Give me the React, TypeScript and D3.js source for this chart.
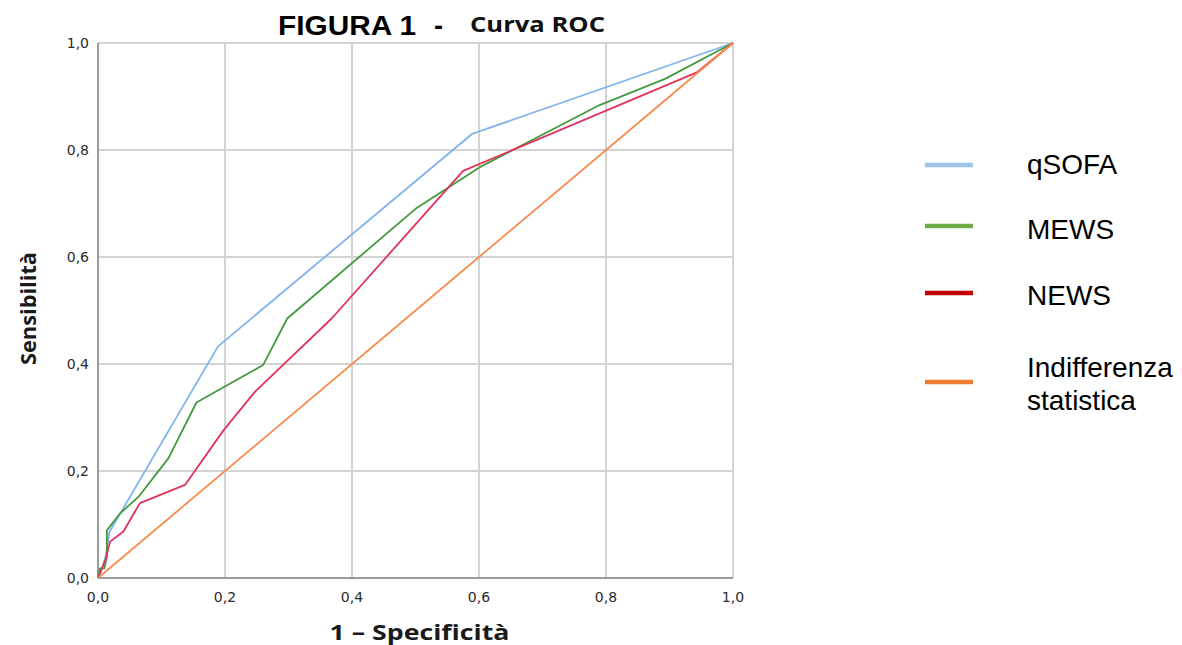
import React from "react";
import * as d3 from "d3";

type Pt = [number, number];

// ROC curve points: [1 - specificity, sensitivity]
const qsofa: Pt[] = [
  [0, 0], [0.006, 0.015], [0.012, 0.04], [0.018, 0.086], [0.189, 0.433], [0.589, 0.83], [1, 1],
];
const mews: Pt[] = [
  [0, 0], [0.003, 0.018], [0.01, 0.018], [0.014, 0.04], [0.014, 0.089], [0.035, 0.121],
  [0.064, 0.152], [0.111, 0.224], [0.155, 0.328], [0.26, 0.398], [0.298, 0.485],
  [0.5, 0.69], [0.6, 0.767], [0.79, 0.884], [0.893, 0.933], [1, 1],
];
const news: Pt[] = [
  [0, 0], [0.005, 0.015], [0.012, 0.035], [0.019, 0.068], [0.04, 0.087], [0.066, 0.14],
  [0.137, 0.174], [0.197, 0.275], [0.247, 0.348], [0.368, 0.485], [0.575, 0.761],
  [0.943, 0.945], [1, 1],
];
const reference: Pt[] = [[0, 0], [1, 1]];

const ticks = [0, 0.2, 0.4, 0.6, 0.8, 1.0];

const series = [
  { name: "qSOFA", data: qsofa, stroke: "#80b3ec", legend: "#9dc3e6" },
  { name: "MEWS", data: mews, stroke: "#44993f", legend: "#70ad47" },
  { name: "NEWS", data: news, stroke: "#e2325c", legend: "#c00000" },
  { name: "Indifferenza statistica", data: reference, stroke: "#f8894a", legend: "#ed7d31" },
];

const legendLines = [["qSOFA"], ["MEWS"], ["NEWS"], ["Indifferenza", "statistica"]];

export default function App() {
  const W = 1182, H = 645;
  const x = d3.scaleLinear().domain([0, 1]).range([98, 733]);
  const y = d3.scaleLinear().domain([0, 1]).range([578, 43]);
  const line = d3.line<Pt>().x(d => x(d[0])).y(d => y(d[1]));
  const fmt = (v: number) => v.toFixed(1).replace(".", ",");
  const tickFont = "'DejaVu Sans', Verdana, sans-serif";
  const legendY = [165, 226, 293, 382];
  const legendBase = [[174], [239], [305], [377, 410]];

  return (
    <svg width={W} height={H} style={{ position: "absolute", left: 0, top: 0, background: "#fff" }}>
      {/* grid */}
      {ticks.filter(t => t > 0).map(t => (
        <line key={"gx" + t} x1={x(t)} x2={x(t)} y1={y(0)} y2={y(1)} stroke="#d3d3d3" strokeWidth={2} />
      ))}
      {ticks.filter(t => t > 0).map(t => (
        <line key={"gy" + t} x1={x(0)} x2={x(1)} y1={y(t)} y2={y(t)} stroke="#d3d3d3" strokeWidth={2} />
      ))}
      {/* axes */}
      <line x1={x(0)} x2={x(0)} y1={y(0)} y2={y(1)} stroke="#9b9b9b" strokeWidth={2} />
      <line x1={x(0)} x2={x(1)} y1={y(0)} y2={y(0)} stroke="#9b9b9b" strokeWidth={2} />

      {/* tick labels */}
      {ticks.map(t => (
        <text key={"ty" + t} x={89} y={y(t) + 5} textAnchor="end" fontFamily={tickFont} fontSize={14} fill="#2a2a2a">
          {fmt(t)}
        </text>
      ))}
      {ticks.map(t => (
        <text key={"tx" + t} x={x(t)} y={602} textAnchor="middle" fontFamily={tickFont} fontSize={14} fill="#2a2a2a">
          {fmt(t)}
        </text>
      ))}

      {/* curves */}
      {series.map(s => (
        <path key={s.name} d={line(s.data) || ""} fill="none" stroke={s.stroke} strokeWidth={1.8} strokeLinejoin="round" />
      ))}

      {/* axis titles */}
      <text x={x(0.5) + 4} y={640} textAnchor="middle" fontFamily="'Open Sans', sans-serif" fontWeight="bold" fontSize={22} fill="#1a1a1a" textLength={180} lengthAdjust="spacingAndGlyphs">
        1 – Specificità
      </text>
      <text transform={`translate(36, ${y(0.5) - 2}) rotate(-90)`} textAnchor="middle" fontFamily="'Open Sans', sans-serif" fontWeight="bold" fontSize={21} fill="#1a1a1a" textLength={113} lengthAdjust="spacingAndGlyphs">
        Sensibilità
      </text>

      {/* title */}
      <text x={278} y={35} fontFamily="'Liberation Sans', Arial, sans-serif" fontWeight="bold" fontSize={27} fill="#000" textLength={138} lengthAdjust="spacingAndGlyphs">
        FIGURA 1
      </text>
      <text x={434} y={35} fontFamily="'Liberation Sans', Arial, sans-serif" fontWeight="bold" fontSize={27} fill="#000">
        -
      </text>
      <text x={470} y={32} fontFamily="'Open Sans', sans-serif" fontWeight="bold" fontSize={21} fill="#111" textLength={135} lengthAdjust="spacingAndGlyphs">
        Curva ROC
      </text>

      {/* legend */}
      {series.map((s, i) => (
        <g key={"lg" + s.name}>
          <line x1={925} x2={973} y1={legendY[i]} y2={legendY[i]} stroke={s.legend} strokeWidth={4.5} />
          {legendLines[i].map((ln, j) => (
            <text key={ln} x={1027} y={legendBase[i][j]}
              fontFamily="'Liberation Sans', Arial, sans-serif" fontSize={28} fill="#000">
              {ln}
            </text>
          ))}
        </g>
      ))}
    </svg>
  );
}
